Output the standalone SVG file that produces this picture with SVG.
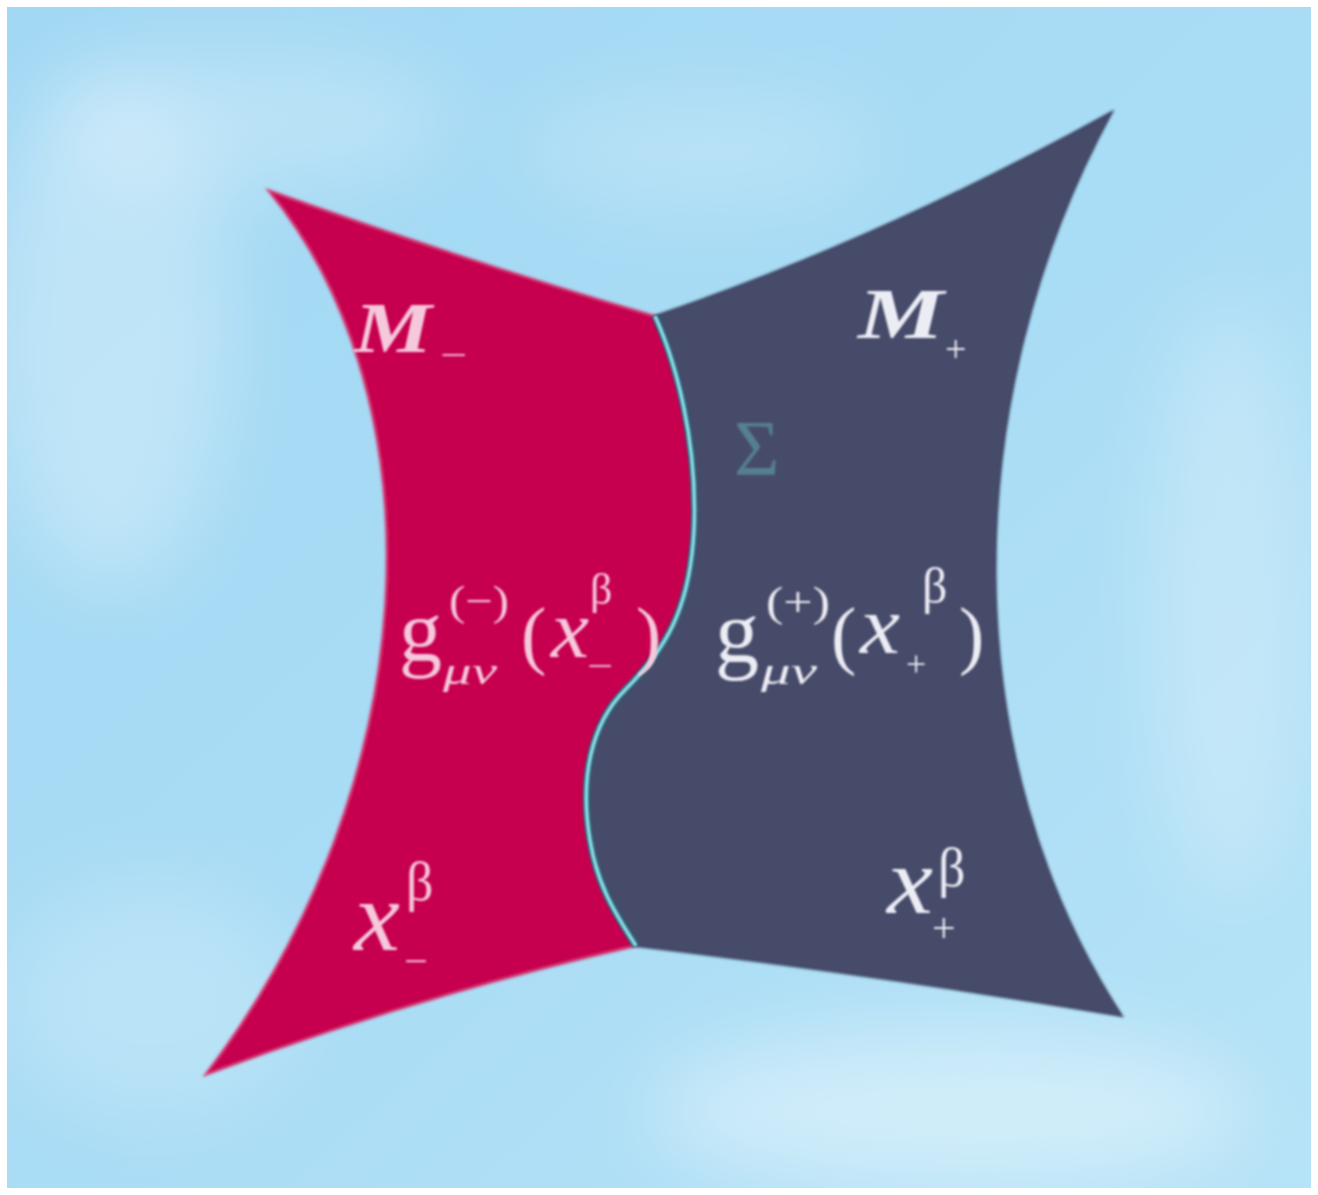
<svg xmlns="http://www.w3.org/2000/svg" width="1318" height="1195" viewBox="0 0 1318 1195">
<defs>
<linearGradient id="sky" x1="0" y1="0" x2="1" y2="1">
<stop offset="0" stop-color="#a2d8f4"/>
<stop offset="0.5" stop-color="#a9dcf5"/>
<stop offset="1" stop-color="#b6e3f7"/>
</linearGradient>
<filter id="cloud" x="-50%" y="-50%" width="200%" height="200%"><feGaussianBlur stdDeviation="40"/></filter>
<filter id="soft" x="-10%" y="-10%" width="120%" height="120%"><feGaussianBlur stdDeviation="1.1"/></filter>
<filter id="edge" x="-10%" y="-10%" width="120%" height="120%"><feGaussianBlur stdDeviation="1.5"/></filter>
<style>
.serif{font-family:"Liberation Serif","DejaVu Serif",serif}
.pink{fill:#f6c8dc}
.pale{fill:#ecedf4}
.it{font-style:italic}
</style>
</defs>
<rect x="0" y="0" width="1318" height="1195" fill="#ffffff"/>
<g id="background">
<rect x="7" y="7" width="1304" height="1181" fill="url(#sky)"/>
<g filter="url(#cloud)" fill="#ffffff">
<ellipse cx="110" cy="330" rx="120" ry="260" opacity="0.3"/>
<ellipse cx="250" cy="120" rx="200" ry="70" opacity="0.25"/>
<ellipse cx="950" cy="1110" rx="300" ry="80" opacity="0.4"/>
<ellipse cx="1230" cy="600" rx="80" ry="300" opacity="0.25"/>
<ellipse cx="700" cy="150" rx="180" ry="60" opacity="0.2"/>
<ellipse cx="150" cy="1000" rx="150" ry="120" opacity="0.2"/>
</g>
</g>
<g id="region-minus">
<path filter="url(#edge)" d="M268,190 Q470,262 655,316 C675,360 698,440 694,530 C690,610 665,650 625,690 C590,725 580,780 590,840 C598,890 620,920 636,946 Q420,995 205,1075 C430,780 440,400 268,190 Z" fill="#c6024f" stroke="#d63a78" stroke-width="2"/>
</g>
<g id="region-plus">
<path filter="url(#edge)" d="M655,316 Q880,240 1112,112 C955,400 955,760 1122,1016 Q880,975 636,946 C620,920 598,890 590,840 C580,780 590,725 625,690 C665,650 690,610 694,530 C698,440 675,360 655,316 Z" fill="#464b6a" stroke="#3a3f5c" stroke-width="2"/>
</g>
<g id="sigma-boundary">
<path d="M655,316 C675,360 698,440 694,530 C690,610 665,650 625,690 C590,725 580,780 590,840 C598,890 620,920 636,946" fill="none" stroke="#2e6676" stroke-width="7" filter="url(#soft)"/>
<path d="M655,316 C675,360 698,440 694,530 C690,610 665,650 625,690 C590,725 580,780 590,840 C598,890 620,920 636,946" fill="none" stroke="#8fdcea" stroke-width="3.5" filter="url(#soft)"/>
</g>
<g id="labels" filter="url(#soft)">
<g id="label-M-minus">
<text class="serif it pink" x="354" y="352" font-size="72" font-weight="bold" textLength="78" lengthAdjust="spacingAndGlyphs">M</text>
<text class="serif pink" x="440" y="367" font-size="36" textLength="27" lengthAdjust="spacingAndGlyphs">−</text>
</g>
<g id="label-M-plus">
<text class="serif it pale" x="858" y="338" font-size="72" font-weight="bold" textLength="86" lengthAdjust="spacingAndGlyphs">M</text>
<text class="serif pale" x="945" y="362" font-size="38">+</text>
</g>
<g id="label-Sigma">
<text class="serif" x="734" y="474" font-size="78" fill="#55808f">Σ</text>
</g>
<g id="label-metric-minus">
<text class="serif pink" x="399" y="660" font-size="86">g</text>
<text class="serif pink" x="449" y="615" font-size="42" textLength="60" lengthAdjust="spacingAndGlyphs">(−)</text>
<text class="serif it pink" x="443" y="684" font-size="38" textLength="54" lengthAdjust="spacingAndGlyphs">μν</text>
<text class="serif pink" x="521" y="660" font-size="76">(</text>
<text class="serif it pink" x="551" y="657" font-size="82" textLength="38" lengthAdjust="spacingAndGlyphs">x</text>
<text class="serif pink" x="590" y="604" font-size="44">β</text>
<text class="serif pink" x="587" y="678" font-size="36" textLength="26" lengthAdjust="spacingAndGlyphs">−</text>
<text class="serif pink" x="636" y="660" font-size="76">)</text>
</g>
<g id="label-metric-plus">
<text class="serif pale" x="715" y="662" font-size="88">g</text>
<text class="serif pale" x="766" y="616" font-size="42" textLength="64" lengthAdjust="spacingAndGlyphs">(+)</text>
<text class="serif it pale" x="761" y="684" font-size="38" textLength="56" lengthAdjust="spacingAndGlyphs">μν</text>
<text class="serif pale" x="831" y="660" font-size="76">(</text>
<text class="serif it pale" x="860" y="653" font-size="82" textLength="40" lengthAdjust="spacingAndGlyphs">x</text>
<text class="serif pale" x="922" y="603" font-size="50">β</text>
<text class="serif pale" x="906" y="676" font-size="36">+</text>
<text class="serif pale" x="959" y="660" font-size="76">)</text>
</g>
<g id="label-x-minus">
<text class="serif it pink" x="354" y="950" font-size="100" textLength="46" lengthAdjust="spacingAndGlyphs">x</text>
<text class="serif pink" x="406" y="900" font-size="54">β</text>
<text class="serif pink" x="404" y="974" font-size="38" textLength="24" lengthAdjust="spacingAndGlyphs">−</text>
</g>
<g id="label-x-plus">
<text class="serif it pale" x="887" y="913" font-size="96" textLength="46" lengthAdjust="spacingAndGlyphs">x</text>
<text class="serif pale" x="938" y="886" font-size="54">β</text>
<text class="serif pale" x="932" y="942" font-size="42">+</text>
</g>
</g>
</svg>
